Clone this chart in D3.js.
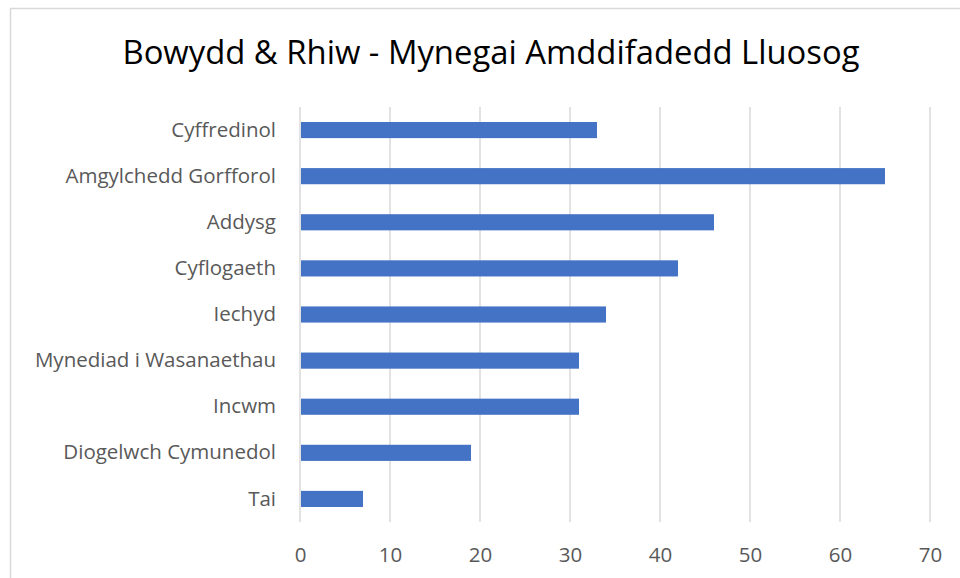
<!DOCTYPE html>
<html>
<head>
<meta charset="utf-8">
<script src="https://cdn.jsdelivr.net/npm/d3@7"></script>
<style>
  body { margin: 0; background: #fff; }
  svg { display: block; }
</style>
</head>
<body>
<div id="chart"></div>
<script>
const categories = [
  "Cyffredinol",
  "Amgylchedd Gorfforol",
  "Addysg",
  "Cyflogaeth",
  "Iechyd",
  "Mynediad i Wasanaethau",
  "Incwm",
  "Diogelwch Cymunedol",
  "Tai",
];
const values = [33, 65, 46, 42, 34, 31, 31, 19, 7];
const xTicks = [0, 10, 20, 30, 40, 50, 60, 70];
const title = "Bowydd & Rhiw - Mynegai Amddifadedd Lluosog";

const barColor = "#4472C4";
const gridColor = "#d9d9d9";
const labelColor = "#595959";
const fontFamily = "'Open Sans', 'Liberation Sans', sans-serif";

let dimensions = {
  width: 960,
  height: 578,
  margin: { top: 107, right: 30, bottom: 56, left: 300 },
};
dimensions.boundedWidth =
  dimensions.width - dimensions.margin.left - dimensions.margin.right;
dimensions.boundedHeight =
  dimensions.height - dimensions.margin.top - dimensions.margin.bottom;

const data = categories.map((c, i) => ({ name: c, value: values[i] }));

const wrapper = d3
  .select("#chart")
  .append("svg")
  .attr("width", dimensions.width)
  .attr("height", dimensions.height);

// chart border
wrapper
  .append("rect")
  .attr("x", 10.5)
  .attr("y", 8.5)
  .attr("width", 980)
  .attr("height", 600)
  .attr("fill", "none")
  .attr("stroke", gridColor)
  .attr("stroke-width", 1.5);

// title
wrapper
  .append("text")
  .attr("x", 491)
  .attr("y", 64)
  .attr("text-anchor", "middle")
  .style("font-family", fontFamily)
  .style("font-size", "32.8px")
  .attr("fill", "#000")
  .text(title);

const bounds = wrapper
  .append("g")
  .attr(
    "transform",
    `translate(${dimensions.margin.left}, ${dimensions.margin.top})`
  );

const xScale = d3
  .scaleLinear()
  .domain([0, 70])
  .range([0, dimensions.boundedWidth]);

const yScale = d3
  .scaleBand()
  .domain(categories)
  .range([0, dimensions.boundedHeight])
  .paddingInner(0.65)
  .paddingOuter(0.325);

// gridlines
bounds
  .append("g")
  .selectAll("line")
  .data(xTicks)
  .join("line")
  .attr("x1", (d) => xScale(d))
  .attr("x2", (d) => xScale(d))
  .attr("y1", 0)
  .attr("y2", dimensions.boundedHeight)
  .attr("stroke", gridColor)
  .attr("stroke-width", 1.5);

// bars
bounds
  .append("g")
  .selectAll("rect")
  .data(data)
  .join("rect")
  .attr("x", xScale(0) + 1)
  .attr("y", (d) => yScale(d.name))
  .attr("width", (d) => xScale(d.value) - xScale(0) - 1)
  .attr("height", yScale.bandwidth())
  .attr("fill", barColor);

// x axis
const xAxisGenerator = d3
  .axisBottom(xScale)
  .tickValues(xTicks)
  .tickSize(0)
  .tickPadding(25);

const xAxis = bounds
  .append("g")
  .attr("transform", `translate(0, ${dimensions.boundedHeight})`)
  .call(xAxisGenerator);
xAxis.select(".domain").remove();
xAxis
  .selectAll("text")
  .attr("fill", labelColor)
  .style("font-family", fontFamily)
  .style("font-size", "20.5px");

// y axis
const yAxisGenerator = d3.axisLeft(yScale).tickSize(0).tickPadding(24);
const yAxis = bounds.append("g").call(yAxisGenerator);
yAxis.select(".domain").remove();
yAxis
  .selectAll("text")
  .attr("fill", labelColor)
  .style("font-family", fontFamily)
  .style("font-size", "20.5px");
</script>
</body>
</html>
